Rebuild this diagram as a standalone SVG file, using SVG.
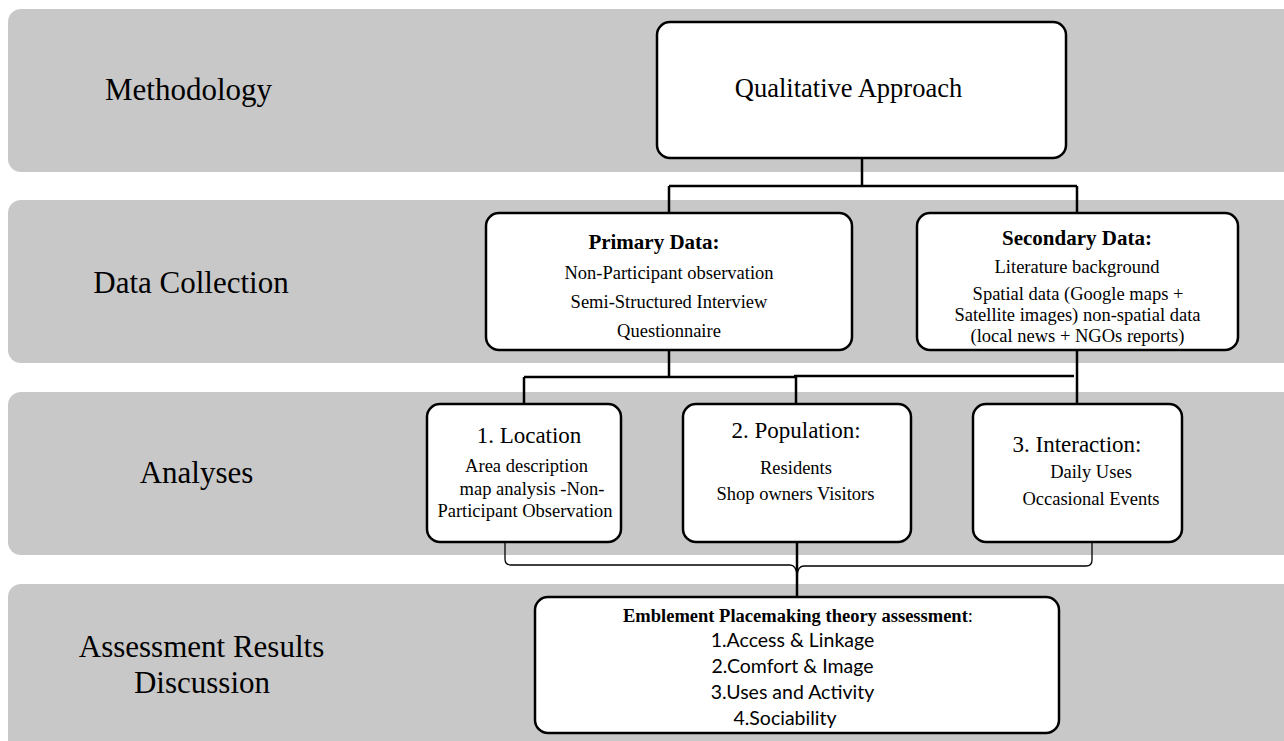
<svg xmlns="http://www.w3.org/2000/svg" width="1284" height="741" viewBox="0 0 1284 741">
<style>
.band{fill:#c8c8c8}
.box{fill:#fff;stroke:#000;stroke-width:2.5}
.lbl{font-family:"Liberation Serif","Times New Roman",serif;font-size:31px;fill:#000;text-anchor:middle}
.t{font-family:"Liberation Serif","Times New Roman",serif;font-size:18.5px;fill:#000;text-anchor:middle}
.h{font-family:"Liberation Serif","Times New Roman",serif;font-size:23px;fill:#000;text-anchor:middle}
.b{font-family:"Liberation Serif","Times New Roman",serif;font-size:21px;font-weight:bold;fill:#000;text-anchor:middle}
.c{font-family:Lato,"Open Sans",sans-serif;font-size:19.5px;fill:#000;text-anchor:middle}
.conn{fill:none;stroke:#000;stroke-width:2.5}
.brace{fill:none;stroke:#000;stroke-width:1.3}
</style>
<g id="bands">
<rect class="band" x="8" y="9" width="1290" height="163" rx="13"/>
<rect class="band" x="8" y="200" width="1290" height="163" rx="13"/>
<rect class="band" x="8" y="392" width="1290" height="163" rx="13"/>
<rect class="band" x="8" y="584" width="1290" height="170" rx="13"/>
<text class="lbl" x="188.5" y="100">Methodology</text>
<text class="lbl" x="191" y="293">Data Collection</text>
<text class="lbl" x="196.5" y="483">Analyses</text>
<text class="lbl" x="201.5" y="657">Assessment Results</text>
<text class="lbl" x="202" y="693">Discussion</text>
</g>
<g id="connectors">
<path class="conn" d="M862,158 V186 M669,186 H1077 M669,186 V213 M1077,186 V213"/>
<path class="conn" d="M669,350 V377 M524,377 H796 M794,376 H1074 M524,377 V404 M796,377 V404 M1077,350 V404"/>
<path class="conn" d="M797,542 V597"/>
<path class="brace" d="M505,543 V559 Q505,565 511,565 H790 Q796,565 797,575 Q798,566 804,566 H1086 Q1092,566 1092,560 V543"/>
</g>
<g id="qualitative">
<rect class="box" x="657" y="22" width="409" height="136" rx="13"/>
<text class="lbl" style="font-size:26.5px" x="848.5" y="97">Qualitative Approach</text>
</g>
<g id="primary">
<rect class="box" x="486" y="213" width="366" height="137" rx="13"/>
<text class="b" x="654" y="249">Primary Data:</text>
<text class="t" x="669" y="279">Non-Participant observation</text>
<text class="t" x="669" y="308">Semi-Structured Interview</text>
<text class="t" x="669" y="337">Questionnaire</text>
</g>
<g id="secondary">
<rect class="box" x="917" y="213" width="321" height="137" rx="13"/>
<text class="b" x="1077" y="245">Secondary Data:</text>
<text class="t" x="1077" y="273">Literature background</text>
<text class="t" x="1078" y="300">Spatial data (Google maps +</text>
<text class="t" x="1077.5" y="321">Satellite images) non-spatial data</text>
<text class="t" x="1077.5" y="342">(local news + NGOs reports)</text>
</g>
<g id="location">
<rect class="box" x="427" y="404" width="194" height="138" rx="13"/>
<text class="h" x="529" y="443">1. Location</text>
<text class="t" x="526.5" y="472">Area description</text>
<text class="t" x="532" y="495">map analysis -Non-</text>
<text class="t" x="525" y="517">Participant Observation</text>
</g>
<g id="population">
<rect class="box" x="683" y="404" width="228" height="138" rx="13"/>
<text class="h" x="796" y="438">2. Population:</text>
<text class="t" x="796" y="474">Residents</text>
<text class="t" x="795.5" y="500">Shop owners Visitors</text>
</g>
<g id="interaction">
<rect class="box" x="973" y="404" width="209" height="138" rx="13"/>
<text class="h" x="1077" y="452">3. Interaction:</text>
<text class="t" x="1091" y="478">Daily Uses</text>
<text class="t" x="1091" y="505">Occasional Events</text>
</g>
<g id="assessment">
<rect class="box" x="535" y="597" width="524" height="136" rx="13"/>
<text class="t" x="798" y="622"><tspan font-weight="bold">Emblement Placemaking theory assessment</tspan>:</text>
<text class="c" x="792.5" y="647">1.Access &amp; Linkage</text>
<text class="c" x="792.5" y="673">2.Comfort &amp; Image</text>
<text class="c" x="792.5" y="699">3.Uses and Activity</text>
<text class="c" x="785" y="725">4.Sociability</text>
</g>
</svg>
